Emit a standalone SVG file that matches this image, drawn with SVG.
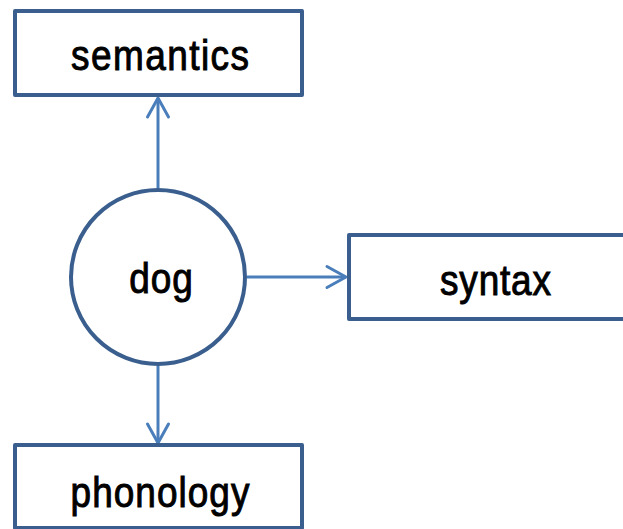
<svg xmlns="http://www.w3.org/2000/svg" width="623" height="529" viewBox="0 0 623 529">
  <style>
    .box { fill: #ffffff; stroke: #3A5F8E; stroke-width: 4; stroke-linejoin: round; }
    .lbl { font-family: "Liberation Sans", Arial, sans-serif; font-size: 43px; fill: #000; stroke: #000; stroke-width: 1; text-anchor: middle; }
    .conn { stroke: #4A7EBB; stroke-width: 3; fill: none; }
  </style>
  <defs>
    <marker id="arr" markerUnits="userSpaceOnUse" viewBox="-22 -14 26 28" refX="0" refY="0" markerWidth="26" markerHeight="28" orient="auto">
      <path d="M -19 -10.5 L 0 0 L -19 10.5" fill="none" stroke="#4A7EBB" stroke-width="3" stroke-linecap="round" stroke-linejoin="round"/>
    </marker>
  </defs>
  <rect width="623" height="529" fill="#ffffff"/>
  <g id="connectors">
    <line class="conn" x1="158" y1="188" x2="158" y2="98" marker-end="url(#arr)"/>
    <line class="conn" x1="247" y1="277" x2="346" y2="277" marker-end="url(#arr)"/>
    <line class="conn" x1="158" y1="366" x2="158" y2="443" marker-end="url(#arr)"/>
  </g>
  <g id="semantics">
    <rect class="box" x="15" y="11" width="287" height="84"/>
    <text class="lbl" transform="translate(160 70) scale(0.86 1)" x="0" y="0" textLength="207" lengthAdjust="spacing">semantics</text>
  </g>
  <g id="dog">
    <circle cx="158" cy="277" r="87" fill="#ffffff" stroke="#3A5F8E" stroke-width="4"/>
    <text class="lbl" transform="translate(161 293) scale(0.86 1)" x="0" y="0" textLength="74" lengthAdjust="spacing">dog</text>
  </g>
  <g id="syntax">
    <rect class="box" x="349" y="235" width="290" height="84"/>
    <text class="lbl" transform="translate(495.5 295) scale(0.86 1)" x="0" y="0" textLength="129" lengthAdjust="spacing">syntax</text>
  </g>
  <g id="phonology">
    <rect class="box" x="15" y="445" width="287" height="83"/>
    <text class="lbl" transform="translate(160 507) scale(0.86 1)" x="0" y="0" textLength="208" lengthAdjust="spacing">phonology</text>
  </g>
</svg>
